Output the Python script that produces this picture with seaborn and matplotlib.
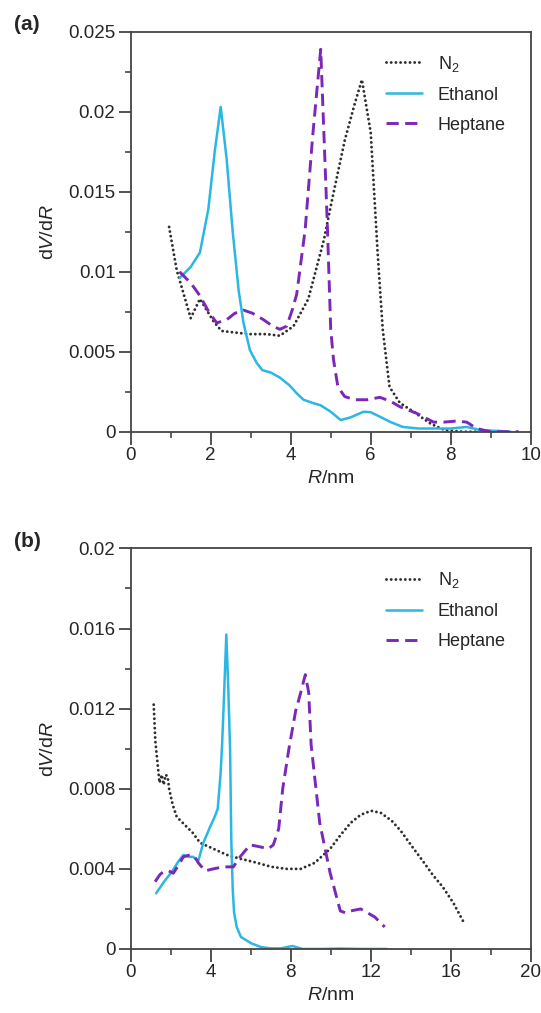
import matplotlib
matplotlib.use("Agg")
import matplotlib.pyplot as plt
import numpy as np
import pandas as pd
import seaborn as sns
from matplotlib.ticker import MultipleLocator, FuncFormatter

# ---- panel (a) ----
n2_a_r = [0.96, 1.15, 1.5, 1.73, 2.07, 2.27, 2.6, 2.98, 3.4, 3.73, 4.07, 4.44, 4.83, 5.0,
          5.35, 5.6, 5.78, 6.0, 6.17, 6.3, 6.47, 6.73, 7.07, 7.5, 7.85, 8.3, 8.7]
n2_a_v = [0.0128, 0.0101, 0.0071, 0.0083, 0.0069, 0.0063, 0.0062, 0.0061, 0.0061, 0.0060,
          0.0066, 0.0083, 0.0120, 0.0141, 0.0182, 0.0205, 0.0220, 0.0187, 0.0113, 0.0064,
          0.0028, 0.0018, 0.00125, 0.0005, 0.0001, 0.0, 0.0]
eth_a_r = [1.22, 1.5, 1.73, 1.94, 2.1, 2.25, 2.4, 2.55, 2.7, 2.82, 2.98, 3.15, 3.29, 3.5,
           3.72, 3.97, 4.15, 4.32, 4.55, 4.75, 5.0, 5.25, 5.5, 5.82, 6.0, 6.23, 6.5, 6.8,
           7.2, 7.6, 8.0, 8.4, 8.75, 9.2, 9.5]
eth_a_v = [0.0096, 0.0103, 0.0112, 0.0139, 0.0175, 0.0203, 0.0170, 0.0125, 0.0088, 0.0068,
           0.0051, 0.0043, 0.00385, 0.0037, 0.0034, 0.0029, 0.0024, 0.0020, 0.0018, 0.00165,
           0.00125, 0.00073, 0.0009, 0.00125, 0.00122, 0.00094, 0.0006, 0.0003, 0.0002,
           0.0002, 0.0002, 0.0003, 0.0001, 0.00005, 0.0]
hep_a_r = [1.22, 1.5, 1.73, 1.95, 2.15, 2.4, 2.6, 2.82, 3.05, 3.32, 3.55, 3.73, 3.9, 4.05,
           4.15, 4.36, 4.55, 4.75, 4.88, 4.92, 5.0, 5.07, 5.18, 5.35, 5.6, 5.9, 6.23, 6.5,
           6.73, 7.15, 7.57, 7.82, 8.15, 8.4, 8.65, 9.0, 9.7]
hep_a_v = [0.0100, 0.0093, 0.0085, 0.0075, 0.0068, 0.0070, 0.0074, 0.0076, 0.0074, 0.0070,
           0.0066, 0.0064, 0.0066, 0.0077, 0.0086, 0.0126, 0.0185, 0.0239, 0.0153, 0.0126,
           0.0064, 0.0045, 0.0028, 0.0022, 0.0020, 0.0020, 0.00215, 0.0019, 0.00156, 0.00115,
           0.0006, 0.0006, 0.00067, 0.0006, 0.0002, 0.0, 0.0]

# ---- panel (b) ----
n2_b_r = [1.15, 1.23, 1.44, 1.55, 1.65, 1.75, 1.85, 1.92, 2.1, 2.3, 2.7, 3.1, 3.47, 4.14,
          4.8, 5.5, 6.13, 7.05, 7.8, 8.5, 9.2, 9.97, 10.5, 11.0, 11.5, 12.02, 12.5, 13.05,
          13.5, 14.08, 14.6, 15.1, 15.6, 16.13, 16.64]
n2_b_v = [0.0122, 0.0104, 0.0083, 0.0087, 0.0082, 0.0087, 0.0086, 0.0080, 0.0072, 0.0066,
          0.0062, 0.0058, 0.0053, 0.0050, 0.0047, 0.0045, 0.00435, 0.0041, 0.0040, 0.0040,
          0.0043, 0.0050, 0.0057, 0.0063, 0.0067, 0.0069, 0.0068, 0.0064, 0.0059, 0.0051,
          0.0044, 0.0037, 0.0031, 0.0023, 0.00135]
eth_b_r = [1.27, 1.7, 2.09, 2.4, 2.63, 2.9, 3.12, 3.38, 3.63, 3.97, 4.2, 4.35, 4.49, 4.57,
           4.68, 4.78, 4.88, 4.97, 5.03, 5.1, 5.17, 5.3, 5.51, 6.03, 6.5, 7.0, 7.5, 8.08,
           8.6, 9.5, 10.5, 11.5, 12.8]
eth_b_v = [0.00278, 0.0034, 0.0039, 0.0044, 0.00469, 0.0046, 0.0046, 0.0044, 0.0053, 0.0061,
           0.0066, 0.0070, 0.0087, 0.0102, 0.0130, 0.0157, 0.0130, 0.0099, 0.0054, 0.0030,
           0.0018, 0.0011, 0.0006, 0.00028, 0.0001, 0.00003, 0.00003, 0.00015, 0.0, 0.0,
           0.00002, 0.0, 0.0]
hep_b_r = [1.22, 1.45, 1.63, 1.9, 2.13, 2.4, 2.63, 2.97, 3.2, 3.38, 3.72, 4.13, 4.63, 5.13,
           5.47, 5.97, 6.47, 6.88, 7.13, 7.4, 7.6, 7.91, 8.25, 8.5, 8.73, 8.9, 9.02, 9.45,
           9.97, 10.48, 10.75, 11.0, 11.5, 12.2, 12.7]
hep_b_v = [0.00336, 0.0037, 0.00386, 0.0039, 0.00378, 0.0042, 0.0046, 0.0047, 0.0046, 0.0043,
           0.0039, 0.0040, 0.0041, 0.0041, 0.0046, 0.0052, 0.0051, 0.0050, 0.0052, 0.0060,
           0.0080, 0.0100, 0.0119, 0.0128, 0.0137, 0.0128, 0.0102, 0.0063, 0.0038, 0.0019,
           0.0018, 0.0019, 0.0020, 0.0016, 0.0011]

labels = ["N$_2$", "Ethanol", "Heptane"]

sns.set_theme(style="ticks")
plt.rcParams["font.family"] = ["Liberation Sans", "DejaVu Sans"]
plt.rcParams["mathtext.fontset"] = "custom"
plt.rcParams["mathtext.rm"] = "Liberation Sans"
plt.rcParams["mathtext.it"] = "Liberation Sans:italic"

grey, cyan, purple = "#2e2e2e", "#2bb7e3", "#7a28b8"
styles = [
    dict(color=grey, lw=2.1, linestyle=(0, (0.01, 1.6)), dash_capstyle="round"),
    dict(color=cyan, lw=1.8, linestyle="-"),
    dict(color=purple, lw=2.1, linestyle=(0, (4.2, 2.2))),
]


def draw(ax, series, xmax, xmaj, ymax, ymaj):
    for (r, v), lab, st in zip(series, labels, styles):
        df = pd.DataFrame({"R": r, "dVdR": v})
        sns.lineplot(data=df, x="R", y="dVdR", sort=False, estimator=None,
                     label=lab, ax=ax, **st)
    ax.set_xlim(0, xmax)
    ax.set_ylim(0, ymax)
    ax.xaxis.set_major_locator(MultipleLocator(xmaj))
    ax.xaxis.set_minor_locator(MultipleLocator(xmaj / 2))
    ax.yaxis.set_major_locator(MultipleLocator(ymaj))
    ax.yaxis.set_minor_locator(MultipleLocator(ymaj / 2))
    ax.yaxis.set_major_formatter(FuncFormatter(lambda v, p: f"{v:g}"))
    ax.xaxis.set_major_formatter(FuncFormatter(lambda v, p: f"{v:g}"))
    ax.tick_params(which="major", length=9, width=1.2, labelsize=13.5, pad=2, color="#333333")
    ax.tick_params(which="minor", length=4.5, width=1.1, color="#333333")
    ax.tick_params(top=False, right=False, which="both")
    for s in ax.spines.values():
        s.set_visible(True)
        s.set_linewidth(1.3)
        s.set_color("#444444")
    ax.set_xlabel("$\\it{R}$/nm", fontsize=14, labelpad=4)
    ax.set_ylabel("d$\\it{V}$/d$\\it{R}$", fontsize=14, labelpad=8)
    leg = ax.legend(loc="upper left", bbox_to_anchor=(0.637, 0.945), frameon=False,
                    fontsize=13, handlelength=2.0, handletextpad=0.9, labelspacing=0.72,
                    borderpad=0, borderaxespad=0)
    leg.get_lines()[0].set_dash_capstyle("round")


fig = plt.figure(figsize=(5.41, 10.13), dpi=100)
ax_a = fig.add_axes([0.2416, 0.5738, 0.7394, 0.3949])
ax_b = fig.add_axes([0.2416, 0.0632, 0.7394, 0.3954])

draw(ax_a, [(n2_a_r, n2_a_v), (eth_a_r, eth_a_v), (hep_a_r, hep_a_v)], 10, 2, 0.025, 0.005)
draw(ax_b, [(n2_b_r, n2_b_v), (eth_b_r, eth_b_v), (hep_b_r, hep_b_v)], 20, 4, 0.02, 0.004)

fig.text(0.026, 1 - 25 / 1013, "(a)", fontsize=15, weight="bold", va="center")
fig.text(0.026, 1 - 541 / 1013, "(b)", fontsize=15, weight="bold", va="center")

fig.savefig("out.png", dpi=100)
